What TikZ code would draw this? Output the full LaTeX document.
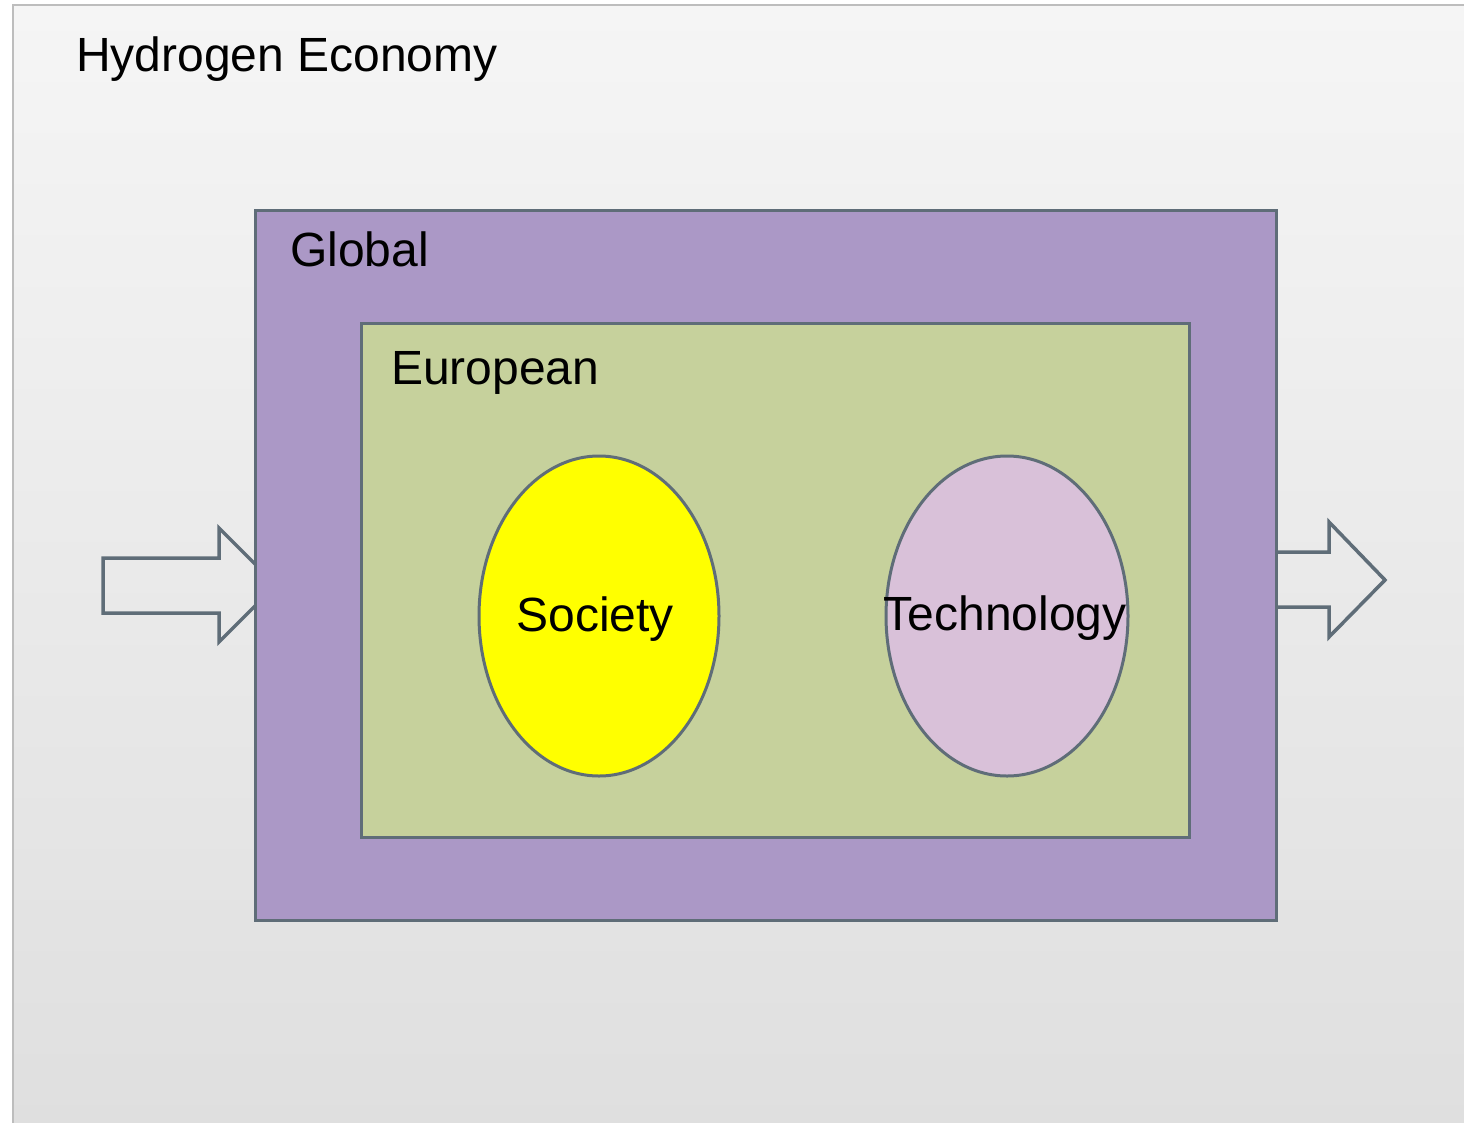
\documentclass[tikz,border=0pt]{standalone}
\usepackage{fontspec}
\setmainfont{Liberation Sans}
\usetikzlibrary{shapes.geometric}
\definecolor{edge}{HTML}{5F6D78}
\definecolor{globalfill}{HTML}{AB98C6}
\definecolor{eurofill}{HTML}{C6D19C}
\definecolor{techfill}{HTML}{D9C1D9}
\definecolor{socfill}{RGB}{255,255,0}
\definecolor{bgtop}{HTML}{F5F5F5}
\definecolor{bgbot}{HTML}{DFDFDF}
\definecolor{bgline}{HTML}{BDBDBD}
\tikzset{
  lab/.style={font=\fontsize{48}{58}\selectfont, inner sep=0pt, text=black},
  boxstyle/.style={draw=edge, line width=3pt, rectangle, inner sep=0pt},
  ell/.style={draw=edge, line width=3pt, ellipse, inner sep=0pt, minimum width=240pt, minimum height=320pt},
  arrowshape/.style={draw=edge, line width=3.5pt, line join=miter}
}
\begin{document}
\begin{tikzpicture}[x=1pt,y=-1pt]
\useasboundingbox (0,0) rectangle (1464,1122);
% background panel
\shade[top color=bgtop, bottom color=bgbot] (13,5) rectangle (1470,1130);
\draw[bgline, line width=2pt] (13,1130) -- (13,5) -- (1470,5);
% arrows
\coordinate (inA) at (103,558);
\draw[arrowshape] (inA) -- (219,558) -- (219,528) -- (276,585) -- (219,642) -- (219,613) -- (103,613) -- cycle;
\coordinate (outA) at (1260,552);
\draw[arrowshape] (outA) -- (1329,552) -- (1329,522) -- (1385,580) -- (1329,637) -- (1329,607) -- (1260,607);
% boxes
\node[boxstyle, fill=globalfill, minimum width=1021pt, minimum height=710pt] (global) at (765.5,565) {};
\node[lab, anchor=base west] (globallab) at (290,266) {Global};
\node[boxstyle, fill=eurofill, minimum width=828pt, minimum height=514pt] (euro) at (775,580) {};
\node[lab, anchor=base west] (eurolab) at (391,384) {European};
% ellipses
\node[ell, fill=socfill] (soc) at (599,616) {};
\node[lab, anchor=base] (soclab) at ([xshift=-4pt,yshift=-15pt]soc.center) {Society};
\node[ell, fill=techfill, minimum width=242pt] (tech) at (1007,616) {};
\node[lab, anchor=base] (techlab) at ([xshift=-2pt,yshift=-14pt]tech.center) {Technology};
% title
\node[lab, anchor=base west] (title) at (76,71) {Hydrogen Economy};
\end{tikzpicture}
\end{document}
